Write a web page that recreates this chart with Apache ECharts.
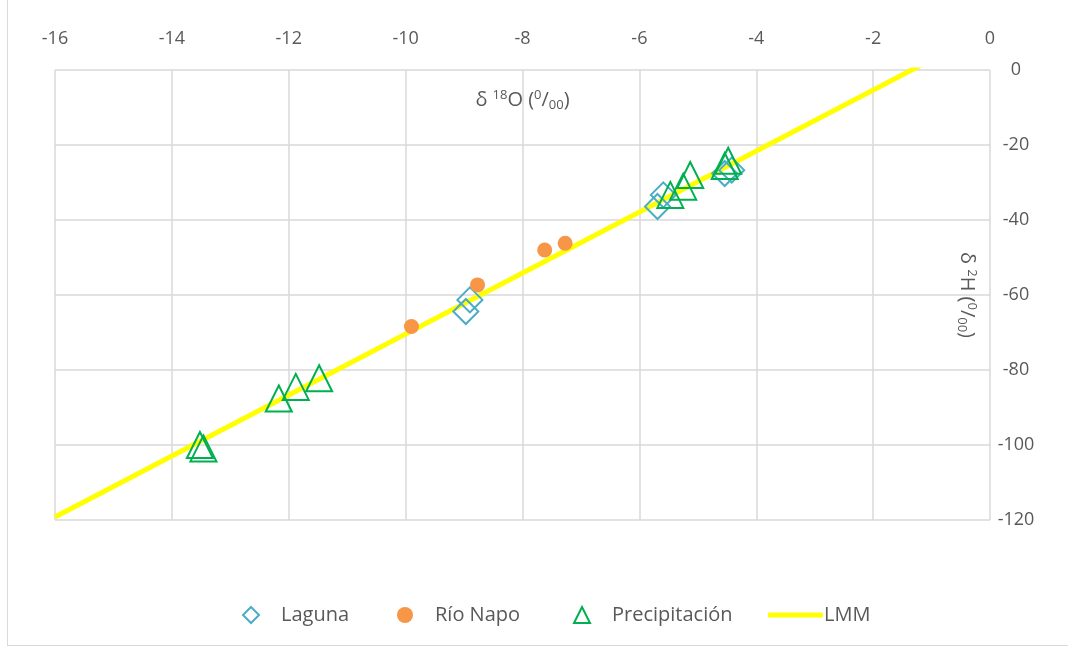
<!DOCTYPE html>
<html>
<head>
<meta charset="utf-8">
<script src="https://cdn.jsdelivr.net/npm/echarts@6/dist/echarts.min.js"></script>
<style>
  html, body { margin: 0; padding: 0; background: #fff; }
  .wrap { position: relative; width: 1068px; height: 648px; overflow: hidden; }
  .chart { width: 1068px; height: 648px; }
  .frame { position: absolute; left: 7px; top: -3px; right: -3px; bottom: 2px; border: 1.5px solid #d9d9d9; pointer-events: none; }
</style>
</head>
<body>
<div class="wrap">
  <div id="chart" class="chart"></div>
  <div class="frame"></div>
</div>
<script>
  // δ18O (x) / δ2H (y)
  const lagunaX = [-8.90, -8.97, -5.69, -5.59, -4.54, -4.42]
  const lagunaY = [-61.3, -64.4, -36.4, -33.3, -27.6, -26.7]
  const napoX = [-9.90, -8.77, -7.62, -7.27]
  const napoY = [-68.4, -57.3, -48.0, -46.2]
  const precipX = [-13.52, -13.46, -12.17, -11.88, -11.48, -5.47, -5.25, -5.13, -4.54, -4.48]
  const precipY = [-100.0, -100.9, -87.6, -84.5, -82.2, -33.3, -31.1, -28.0, -25.6, -24.2]
  // LMM: δ2H = slope * δ18O + intercept
  const lmmSlope = 8.13
  const lmmIntercept = 10.9
  const lmmX = [-16, 0]

  const seriesNames = ['Laguna', 'Río Napo', 'Precipitación', 'LMM']
  const xTicks = { min: -16, max: 0, interval: 2 }
  const yTicks = { min: -120, max: 0, interval: 20 }

  const pairs = (xs, ys) => xs.map((x, i) => [x, ys[i]])
  const lmmData = lmmX.map(x => [x, lmmSlope * x + lmmIntercept])

  const font = '"Open Sans", "Liberation Sans", sans-serif'
  const grey = '#595959'
  const gridColor = '#d9d9d9'

  // one legend per entry so each sits where the original has it
  const legendLefts = [237, 392, 568, 763]
  const legendItem = (name, i) => ({
    data: [name],
    left: legendLefts[i],
    top: 600,
    itemWidth: name === 'LMM' ? 55 : 16,
    itemHeight: name === 'LMM' ? 5 : 16,
    icon: name === 'LMM' ? 'roundRect' : undefined,
    textStyle: {
      color: grey,
      fontSize: 20,
      fontFamily: font,
      padding: name === 'LMM' ? [0, 0, 0, -4] : [0, 0, 0, 17],
    },
  })

  const richName = {
    sup: { fontSize: 13, verticalAlign: 'top', color: grey, padding: [0, 0, 10, 0] },
    sub: { fontSize: 13, verticalAlign: 'bottom', color: grey, padding: [8, 0, 0, 0] },
  }

  const chart = echarts.init(document.getElementById('chart'))
  const option = {
    animation: false,
    textStyle: { fontFamily: font },
    grid: { left: 55, right: 78, top: 70, bottom: 128 },
    legend: seriesNames.map(legendItem),
    xAxis: {
      type: 'value',
      position: 'top',
      min: xTicks.min,
      max: xTicks.max,
      interval: xTicks.interval,
      axisLine: { show: false },
      axisTick: { show: false },
      axisLabel: { color: grey, fontSize: 18, margin: 22 },
      splitLine: { show: true, lineStyle: { color: gridColor, width: 1.5 } },
      name: 'δ {sup|18}O ({sup|0}/{sub|00})',
      nameLocation: 'middle',
      nameGap: -42,
      nameTextStyle: { color: grey, fontSize: 20, rich: richName },
    },
    yAxis: {
      type: 'value',
      position: 'right',
      min: yTicks.min,
      max: yTicks.max,
      interval: yTicks.interval,
      axisLine: { show: false },
      axisTick: { show: false },
      axisLabel: { color: grey, fontSize: 18, margin: 26, align: 'center' },
      splitLine: { show: true, lineStyle: { color: gridColor, width: 1.5 } },
      name: 'δ {sup|2}H ({sup|0}/{sub|00})',
      nameLocation: 'middle',
      nameRotate: -90,
      nameGap: -35,
      nameTextStyle: { color: grey, fontSize: 20, rich: richName },
    },
    series: [
      {
        name: 'Laguna',
        type: 'scatter',
        symbol: 'diamond',
        symbolSize: 25,
        z: 3,
        itemStyle: { color: 'transparent', borderColor: '#4bacc6', borderWidth: 2, opacity: 1 },
        data: pairs(lagunaX, lagunaY),
      },
      {
        name: 'Río Napo',
        type: 'scatter',
        symbol: 'circle',
        symbolSize: 15,
        z: 3,
        itemStyle: { color: '#f79646', opacity: 1 },
        data: pairs(napoX, napoY),
      },
      {
        name: 'Precipitación',
        type: 'scatter',
        symbol: 'triangle',
        symbolSize: 26,
        z: 4,
        itemStyle: { color: 'transparent', borderColor: '#00b050', borderWidth: 2, opacity: 1 },
        data: pairs(precipX, precipY),
      },
      {
        name: 'LMM',
        type: 'line',
        symbol: 'none',
        showSymbol: false,
        clip: true,
        z: 2,
        lineStyle: { color: '#ffff00', width: 5 },
        itemStyle: { color: '#ffff00' },
        data: lmmData,
      },
    ],
  }
  chart.setOption(option)
</script>
</body>
</html>
